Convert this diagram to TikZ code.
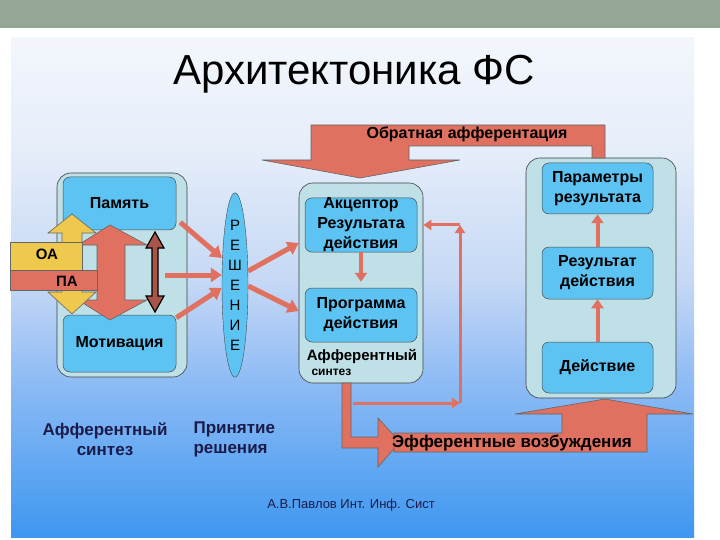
\documentclass[tikz,border=0pt]{standalone}
\usepackage{fontspec}
\setmainfont{Liberation Sans}
\usetikzlibrary{arrows.meta,shapes.geometric}

\definecolor{topbar}{HTML}{95A596}
\definecolor{panelbot}{HTML}{3E97F0}
\definecolor{panellow}{HTML}{8DBBF5}
\definecolor{panelmid}{HTML}{C5D8F5}
\definecolor{panelhigh}{HTML}{E6EEFA}
\definecolor{paneltop}{HTML}{F3F6FC}
\definecolor{framecyan}{HTML}{BEE0E6}
\definecolor{cellblue}{HTML}{5CC3F2}
\definecolor{arrowred}{HTML}{E0705F}
\definecolor{arrowyellow}{HTML}{EEC94E}
\definecolor{labelnavy}{HTML}{1B1B4A}

\pgfdeclareverticalshading{panelfade}{100bp}{color(0bp)=(panelbot); color(25bp)=(panelbot); color(40.5bp)=(panellow); color(50.5bp)=(panelmid); color(64bp)=(panelhigh); color(75bp)=(paneltop); color(100bp)=(paneltop)}

\tikzset{frame/.style={draw=black!75,fill=framecyan,rounded corners=14pt,line width=0.6pt},
  cell/.style={draw=black!70,fill=cellblue,rounded corners=7pt,line width=0.5pt,inner sep=0pt,
    align=center,font=\fontsize{16}{20}\selectfont\bfseries},
  fatarrow/.style={draw=arrowred,line width=5pt,-{Triangle[length=11pt,width=14pt]}},
  midarrow/.style={draw=arrowred,line width=4pt,-{Triangle[length=9pt,width=12pt]}},
  loopline/.style={draw=arrowred,line width=3pt,-{Triangle[length=8pt,width=10pt]}},
  redshape/.style={fill=arrowred,draw=black!60,line width=0.6pt}}

\begin{document}
\begin{tikzpicture}[x=1pt,y=-1pt]
    \useasboundingbox (0,0) rectangle (720,540);
    \fill[white] (0,0) rectangle (720,540);
    \fill[topbar] (0,0) rectangle (720,28);
    \shade[shading=panelfade] (11,38) rectangle (694,537);
    \node[font=\fontsize{42}{46}\selectfont] (title) at (354,74) {Архитектоника ФС};

    % afferent synthesis block
    \node[frame,minimum width=130pt,minimum height=204pt] (synframe) at (122,275) {};
    \node[cell,minimum width=113pt,minimum height=53pt] (mem) at (119.5,203.5) {Память};
    \node[cell,minimum width=113pt,minimum height=57pt] (mot) at (119.5,343.5) {Мотивация};
    \filldraw[redshape] (110,225) -- (147,245) -- (125,245) -- (125,300) -- (147,300) -- (110,320)
      -- (78,300) -- (97,300) -- (97,245) -- (78,245) -- cycle;
    \filldraw[fill=arrowyellow,draw=black!60,line width=0.6pt] (72,214) -- (96,233) -- (82,233) -- (82,292)
      -- (96,292) -- (72,314) -- (48,292) -- (62,292) -- (62,233) -- (48,233) -- cycle;
    \filldraw[fill=arrowyellow,draw=black!60,line width=0.6pt] (10,242) rectangle (82,270);
    \filldraw[redshape] (10,270) rectangle (97,290);
    \node[font=\fontsize{15}{17}\selectfont\bfseries] (oa) at (47,254) {ОА};
    \node[font=\fontsize{15}{17}\selectfont\bfseries] (pa) at (67,281) {ПА};
    \filldraw[fill=arrowred!75!black,draw=black,line width=1.2pt] (155,232) -- (164,248) -- (158,248)
      -- (158,296) -- (164,296) -- (155,312) -- (146,296) -- (152,296) -- (152,248) -- (146,248) -- cycle;

    % decision
    \node[ellipse,draw=black!70,fill=cellblue,minimum width=26pt,minimum height=184pt,inner sep=0pt,
      align=center,font=\fontsize{15}{20}\selectfont] (dec) at (235,285) {Р\\Е\\Ш\\Е\\Н\\И\\Е};
    \draw[fatarrow] ([xshift=4pt,yshift=8pt]mem.south east) -- ([yshift=27pt]dec.west);
    \draw[fatarrow] ([xshift=-22pt]synframe.east) -- (dec.west |- synframe);
    \draw[fatarrow] ([yshift=-3pt]mot.north east) -- ([yshift=-3pt]dec.west);

    % acceptor block
    \node[frame,minimum width=124pt,minimum height=200pt] (accframe) at (361,283) {};
    \node[cell,minimum width=112pt,minimum height=54pt] (accept) at (361,225) {Акцептор\\Результата\\действия};
    \node[cell,minimum width=112pt,minimum height=54pt] (prog) at (361,315) {Программа\\действия};
    \node[font=\fontsize{15}{17}\selectfont\bfseries] (affsyn) at (362,356) {Афферентный};
    \node[font=\fontsize{12}{14}\selectfont\bfseries,anchor=west] (synt) at (308,372) {синтез};
    \draw[midarrow] (accept.south) -- ([yshift=6pt]prog.north);
    \draw[fatarrow] ([yshift=14pt]dec.east) -- ([yshift=40pt]accframe.west);
    \draw[fatarrow] ([yshift=-1pt]dec.east) -- ([yshift=-28pt]accframe.west);

    % result block
    \node[frame,minimum width=150pt,minimum height=240pt] (resframe) at (601,278) {};
    \node[cell,minimum width=111pt,minimum height=51pt] (param) at (597.5,188.5) {Параметры\\результата};
    \node[cell,minimum width=111pt,minimum height=52pt] (result) at (597.5,273) {Результат\\действия};
    \node[cell,minimum width=111pt,minimum height=51pt] (act) at (597.5,367.5) {Действие};
    \draw[midarrow] (result.north) -- (param.south);
    \draw[midarrow] (act.north) -- (result.south);

    % feedback afferentation
    \filldraw[redshape] (311,125) -- (605,125) -- (605,158) -- (592,158) -- (592,146) -- (409,146)
      -- (409,160) -- (460,160) -- (360,178) -- (262,160) -- (311,160) -- cycle;
    \node[font=\fontsize{16}{18}\selectfont\bfseries] (fbtext) at (467,134) {Обратная афферентация};

    % loop to acceptor
    \coordinate (lpa) at (353,403);
    \coordinate (lpb) at (460,403);
    \draw[loopline] (lpa) -- (lpb);
    \draw[loopline] (lpb) -- (lpb |- accept);
    \draw[loopline] (lpb |- accept) -- (accframe.east |- accept);

    % efferent excitations
    \filldraw[redshape] (342,383) -- (342,448) -- (378,448) -- (378,467) -- (400,442) -- (378,418)
      -- (378,437) -- (351,437) -- (351,383) -- cycle;
    \filldraw[redshape] (394,433) -- (562,433) -- (562,414) -- (515,414) -- (605,399) -- (693,414)
      -- (647,414) -- (647,452) -- (394,452) -- cycle;
    \node[font=\fontsize{17}{19}\selectfont\bfseries] (eftext) at (512,443) {Эфферентные возбуждения};

    % captions
    \node[font=\fontsize{17}{20}\selectfont\bfseries,text=labelnavy,align=center] (afflabel) at (105,439) {Афферентный\\синтез};
    \node[font=\fontsize{17}{20}\selectfont\bfseries,text=labelnavy,align=left,anchor=west] (declabel) at (190,439) {Принятие\\решения};
    \node[font=\fontsize{13}{15}\selectfont,text=labelnavy] (author) at (351,505) {А.В.Павлов Инт. Инф. Сист};
\end{tikzpicture}
\end{document}
